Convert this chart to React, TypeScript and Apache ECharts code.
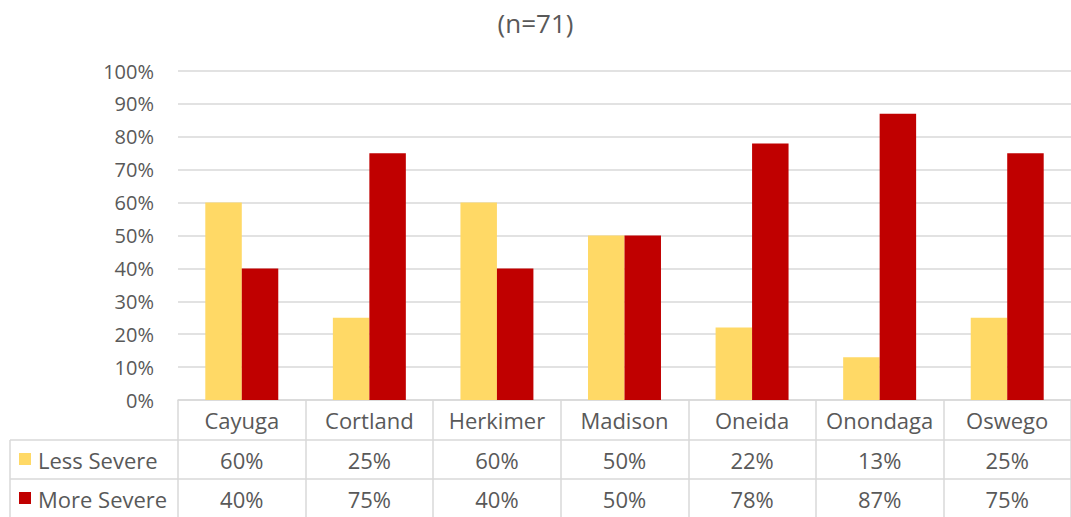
import React, { useEffect, useRef } from "react";
import * as echarts from "echarts";

const categories = ["Cayuga", "Cortland", "Herkimer", "Madison", "Oneida", "Onondaga", "Oswego"];
const lessSevere = [60, 25, 60, 50, 22, 13, 25];
const moreSevere = [40, 75, 40, 50, 78, 87, 75];
const seriesNames = ["Less Severe", "More Severe"];
const seriesColors = ["#FFD966", "#C00000"];
const titleText = "(n=71)";

const FONT = "'Open Sans', 'Noto Sans', sans-serif";
const TEXT = "#595959";
const LINE = "#D9D9D9";

export default function App() {
  const ref = useRef<HTMLDivElement>(null);
  useEffect(() => {
    document.body.style.margin = "0";
    const chart = echarts.init(ref.current!, null, { renderer: "svg" });
    const gridLeft = 178;
    const gridTop = 71;
    const gridBottom = 400;
    const row1 = 440;
    const row2 = 479;
    const tableAxis = (data: string[], offset: number, tickLen: number) => ({
      type: "category",
      data,
      position: "bottom",
      offset,
      axisLine: { show: true, lineStyle: { color: LINE, width: 1.5 } },
      axisTick: { show: true, interval: 0, length: tickLen, lineStyle: { color: LINE, width: 1.5 } },
      axisLabel: {
        interval: 0,
        color: TEXT,
        fontFamily: FONT,
        fontSize: 22,
        margin: tickLen / 2,
        verticalAlign: "middle",
      },
    });
    const legendRows = seriesNames.map((name, i) => {
      const yTop = i === 0 ? row1 : row2;
      return {
        type: "group",
        children: [
          {
            type: "rect",
            shape: { x: 19, y: yTop + 13, width: 12, height: 12 },
            style: { fill: seriesColors[i] },
          },
          {
            type: "text",
            x: 38,
            y: yTop + 19.5,
            style: {
              text: name,
              fill: TEXT,
              font: `22px ${FONT}`,
              textVerticalAlign: "middle",
              verticalAlign: "middle",
            },
          },
        ],
      };
    });
    chart.setOption({
      animation: false,
      title: {
        text: titleText,
        left: "center",
        top: 5,
        textStyle: { color: TEXT, fontFamily: FONT, fontSize: 26, fontWeight: "normal" },
      },
      grid: { left: gridLeft, top: gridTop, right: -4, bottom: 517 - gridBottom, containLabel: false },
      xAxis: [
        {
          type: "category",
          data: categories,
          position: "bottom",
          axisLine: { show: true, lineStyle: { color: LINE, width: 1.5 } },
          axisTick: { show: true, interval: 0, length: 40, lineStyle: { color: LINE, width: 1.5 } },
          axisLabel: {
            interval: 0,
            color: TEXT,
            fontFamily: FONT,
            fontSize: 22,
            margin: 20,
            verticalAlign: "middle",
          },
        },
        tableAxis(lessSevere.map((v) => `${v}%`), row1 - gridBottom, 39),
        tableAxis(moreSevere.map((v) => `${v}%`), row2 - gridBottom, 40),
      ],
      yAxis: {
        type: "value",
        min: 0,
        max: 100,
        interval: 10,
        axisLine: { show: false },
        axisTick: { show: false },
        axisLabel: { formatter: "{value}%", color: TEXT, fontFamily: FONT, fontSize: 20, margin: 24 },
        splitLine: { lineStyle: { color: LINE, width: 1.5 } },
      },
      series: [
        {
          name: seriesNames[0],
          type: "bar",
          data: lessSevere,
          barWidth: "28.6%",
          barGap: "0%",
          itemStyle: { color: seriesColors[0] },
        },
        {
          name: seriesNames[1],
          type: "bar",
          data: moreSevere,
          barWidth: "28.6%",
          barGap: "0%",
          itemStyle: { color: seriesColors[1] },
        },
      ],
      graphic: [
        {
          type: "line",
          shape: { x1: 10, y1: row1, x2: gridLeft, y2: row1 },
          style: { stroke: LINE, lineWidth: 1.5 },
        },
        {
          type: "line",
          shape: { x1: 10, y1: row2, x2: gridLeft, y2: row2 },
          style: { stroke: LINE, lineWidth: 1.5 },
        },
        {
          type: "line",
          shape: { x1: 10, y1: row1, x2: 10, y2: 517 },
          style: { stroke: LINE, lineWidth: 1.5 },
        },
        ...legendRows,
      ],
    });
    return () => chart.dispose();
  }, []);
  return <div ref={ref} style={{ width: 1071, height: 517 }} />;
}
